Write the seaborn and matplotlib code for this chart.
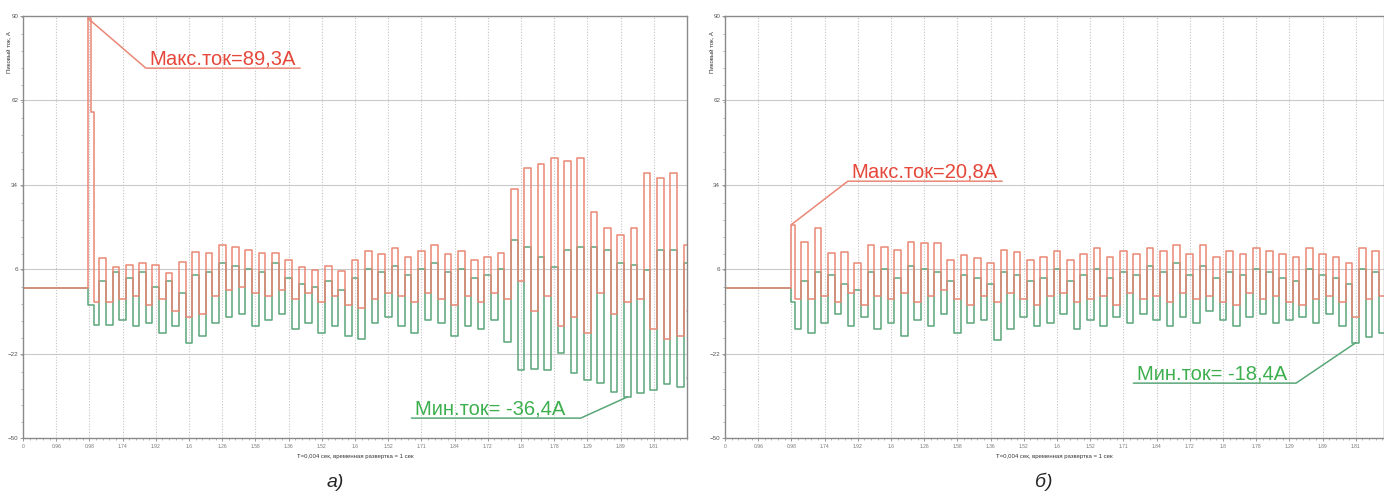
import numpy as np
import pandas as pd
import matplotlib as mpl
mpl.use("Agg")
import matplotlib.pyplot as plt
import seaborn as sns
from matplotlib.ticker import MultipleLocator

sns.set_theme(style="white")
plt.rcParams['font.family'] = ['Liberation Sans', 'DejaVu Sans']

# --- values (A), one pulse = high half + low half ---
PERIOD = 0.4   # grid divisions per pulse

# panel a: flat part, spike, then pulses
pre_x_a = [0.0, 1.95, 2.05, 2.15]
pre_red_a = [-0.3, 89.3, 58.0, -5.0]
pre_green_a = [-0.3, -6.0, -6.0, -12.6]
red_hi_a = [9.6, 6.7, 7.3, 8.0, 7.3, 4.7, 8.3, 11.6, 11.3, 14.0,
            13.3, 12.3, 11.3, 11.3, 9.0, 6.7, 5.7, 7.0, 5.5, 9.0,
            12, 11, 13, 10, 12, 14, 11, 12, 9, 10,
            11.3, 32.5, 39.5, 41, 42.8, 42, 43, 24.9, 19.6, 17.3,
            19.6, 37.8, 36.2, 37.8, 14]
red_lo_a = [-5, -4, -3, -6, -4, -8, -10, -9, -3, -1,
            0, -2, -3, -1, -4, -2, -5, -3, -6, -7,
            -4, -2, -3, -5, -2, -4, -6, -3, -5, -2,
            -4, 2, -8, -3, -13, -10, -15, -2, -9, -5,
            -4, -14, -17, -16, -8]
green_hi_a = [2, 5, 3, 5, 0, 2, -2, 4, 5, 8,
              7, 6, 5, 8, 3, 1, 0, 2, -1, 3,
              6, 5, 7, 4, 6, 8, 5, 6, 3, 4,
              6, 15.6, 13.3, 10, 6.7, 12.3, 13.3, 13.3, 12.3, 8,
              7.3, 5.7, 12.3, 12.3, 8]
green_lo_a = [-12.6, -11, -13, -12, -15, -13, -18.5, -16, -12, -10,
              -9, -13, -11, -9, -14, -12, -15, -13, -16, -17,
              -12, -10, -13, -15, -11, -12, -16, -13, -14, -11,
              -18, -27.5, -27, -27.5, -21.9, -28.5, -30.8, -31.8, -34.8, -36.4,
              -35, -34.1, -32, -33, -30]

# panel b
pre_x_b = [0.0, 2.0, 2.12]
pre_red_b = [-0.3, 20.8, -4.0]
pre_green_b = [-0.3, -5.0, -14.0]
red_hi_b = [15, 19.6, 11.3, 11.6, 8, 14, 13.3, 12.3, 15, 14.6,
            14.6, 9, 10.6, 9.6, 8, 12.3, 11.6, 9, 10, 12,
            9, 11, 13, 10, 12, 11, 13, 12, 14, 11,
            14, 10, 12, 11, 13, 12, 11, 10, 13, 11,
            10, 8, 13, 12]
red_lo_b = [-4, -3, -5, -2, -6, -3, -4, -2, -5, -3,
            -1, -4, -6, -3, -5, -2, -4, -6, -3, -2,
            -5, -4, -3, -6, -2, -4, -3, -5, -2, -4,
            -3, -5, -6, -2, -4, -3, -5, -6, -4, -3,
            -5, -10, -4, -3]
green_hi_b = [2, 5, 4, 1, -1, 5, 6, 3, 7, 6,
              5, 2, 4, 3, 1, 5, 4, 2, 3, 6,
              2, 4, 6, 3, 5, 4, 7, 5, 8, 4,
              7, 3, 5, 4, 6, 5, 3, 2, 6, 4,
              3, 1, 6, 5]
green_lo_b = [-15, -12, -9, -13, -10, -14, -12, -16, -11, -13,
              -9, -15, -12, -11, -17.6, -14, -10, -13, -12, -9,
              -14, -11, -13, -10, -12, -9, -11, -13, -10, -12,
              -8, -11, -13, -10, -9, -12, -11, -10, -12, -9,
              -13, -18.4, -16.6, -15]

yticks = [-50, -22, 6, 34, 62, 90]
xtick_labels = ["0", "0.96", "0.98", "1.74", "1.92", "1.6", "1.26", "1.58", "1.36", "1.52",
                "1.6", "1.52", "1.71", "1.84", "1.72", "1.8", "1.78", "1.29", "1.89", "1.81"]

RED_LINE = "#ea8775"
GREEN_LINE = "#5aa679"
RED_TEXT = "#e5483a"
GREEN_TEXT = "#3daf4f"


def build(pre_x, pre_red, pre_green, red_hi, red_lo, green_hi, green_lo, t0, xend):
    xs, red, green = list(pre_x), list(pre_red), list(pre_green)
    for i in range(len(red_hi)):
        t = t0 + PERIOD * i
        xs += [t, t + PERIOD / 2]
        red += [red_hi[i], red_lo[i]]
        green += [green_hi[i], green_lo[i]]
    xs.append(xend)
    red.append(red[-1])
    green.append(green[-1])
    df = pd.concat([pd.DataFrame({'t': xs, 'I': green, 'trace': 'min'}),
                    pd.DataFrame({'t': xs, 'I': red, 'trace': 'max'})])
    return df


def panel(ax, df, xmax, max_txt, max_line, min_txt, min_line):
    sns.lineplot(data=df, x='t', y='I', hue='trace', palette={'max': RED_LINE, 'min': GREEN_LINE},
                 drawstyle='steps-post', estimator=None, sort=False, legend=False,
                 linewidth=1.1, ax=ax)
    ax.set_xlim(0, xmax)
    ax.set_ylim(-50, 90)
    ax.set_yticks(yticks)
    ax.set_xticks(np.arange(20))
    ax.set_xticklabels(xtick_labels)
    ax.xaxis.set_minor_locator(MultipleLocator(0.2))
    ax.yaxis.set_minor_locator(MultipleLocator(5.6))
    ax.tick_params(axis='x', which='major', labelsize=3.6, labelcolor='#777777', length=2.5,
                   width=0.6, color='#888888', direction='out', bottom=True, pad=2)
    ax.tick_params(axis='y', which='major', labelsize=4.5, labelcolor='#555555', length=2.5,
                   width=0.6, color='#888888', direction='out', left=True, pad=1)
    ax.tick_params(which='minor', length=1.5, width=0.5, color='#999999', bottom=True, left=True)
    ax.grid(False)
    for y in yticks[1:-1]:
        ax.axhline(y, color='#c9c9c9', lw=0.8, zorder=0)
    for x in range(1, 20):
        ax.axvline(x, color='#c4c4c4', lw=0.8, ls=(0, (1, 1.5)), zorder=0)
    for s in ax.spines.values():
        s.set_color('#8a8a8a')
        s.set_linewidth(1.0)
    ax.set_xlabel("T=0,004 сек, временная развертка = 1 сек", fontsize=4.3, color='#333333')
    ax.xaxis.set_label_coords(0.5, -0.038)
    ax.set_ylabel("Пиковый ток, А", fontsize=4.3, color='#333333')
    ax.yaxis.set_label_coords(-0.017, 0.915)

    red = df[df.trace == 'max'].reset_index(drop=True)
    green = df[df.trace == 'min'].reset_index(drop=True)
    imax = red['I'].idxmax()
    px, py = red.loc[imax, 't'], red.loc[imax, 'I']
    imin = green['I'].idxmin()
    qx = (green.loc[imin, 't'] + green.loc[imin + 1, 't']) / 2
    qy = green.loc[imin, 'I']

    x1, x2, yl = max_line
    ax.plot([px, x1, x2], [py, yl, yl], color=RED_LINE, lw=1.1)
    ax.text(x1 + 0.12, yl + 1.3, max_txt, color=RED_TEXT, fontsize=14.5, va='baseline')
    x1, x2, yl = min_line
    ax.plot([qx, x2, x1], [qy, yl, yl], color=GREEN_LINE, lw=1.1)
    ax.text(x1 + 0.1, yl + 1.3, min_txt, color=GREEN_TEXT, fontsize=14.5, va='baseline')


fig = plt.figure(figsize=(13.84, 4.92), dpi=100)
ax_a = fig.add_axes([23 / 1384, 54 / 492, 664 / 1384, 422 / 492])
ax_b = fig.add_axes([725 / 1384, 54 / 492, 659 / 1384, 422 / 492])

df_a = build(pre_x_a, pre_red_a, pre_green_a, red_hi_a, red_lo_a, green_hi_a, green_lo_a, 2.3, 20)
df_b = build(pre_x_b, pre_red_b, pre_green_b, red_hi_b, red_lo_b, green_hi_b, green_lo_b, 2.3, 19.85)

panel(ax_a, df_a, 20, "Макс.ток=89,3А", (3.7, 8.35, 72.7), "Мин.ток= -36,4А", (11.7, 16.8, -43.4))
panel(ax_b, df_b, 19.85, "Макс.ток=20,8А", (3.7, 8.35, 35.2), "Мин.ток= -18,4А", (12.3, 17.2, -31.8))

fig.text(335 / 1384, 1 - 487 / 492, "а)", fontsize=14, style='italic', ha='center', va='baseline')
fig.text(1044 / 1384, 1 - 487 / 492, "б)", fontsize=14, style='italic', ha='center', va='baseline')

fig.savefig("out.png", dpi=100, facecolor='white')
